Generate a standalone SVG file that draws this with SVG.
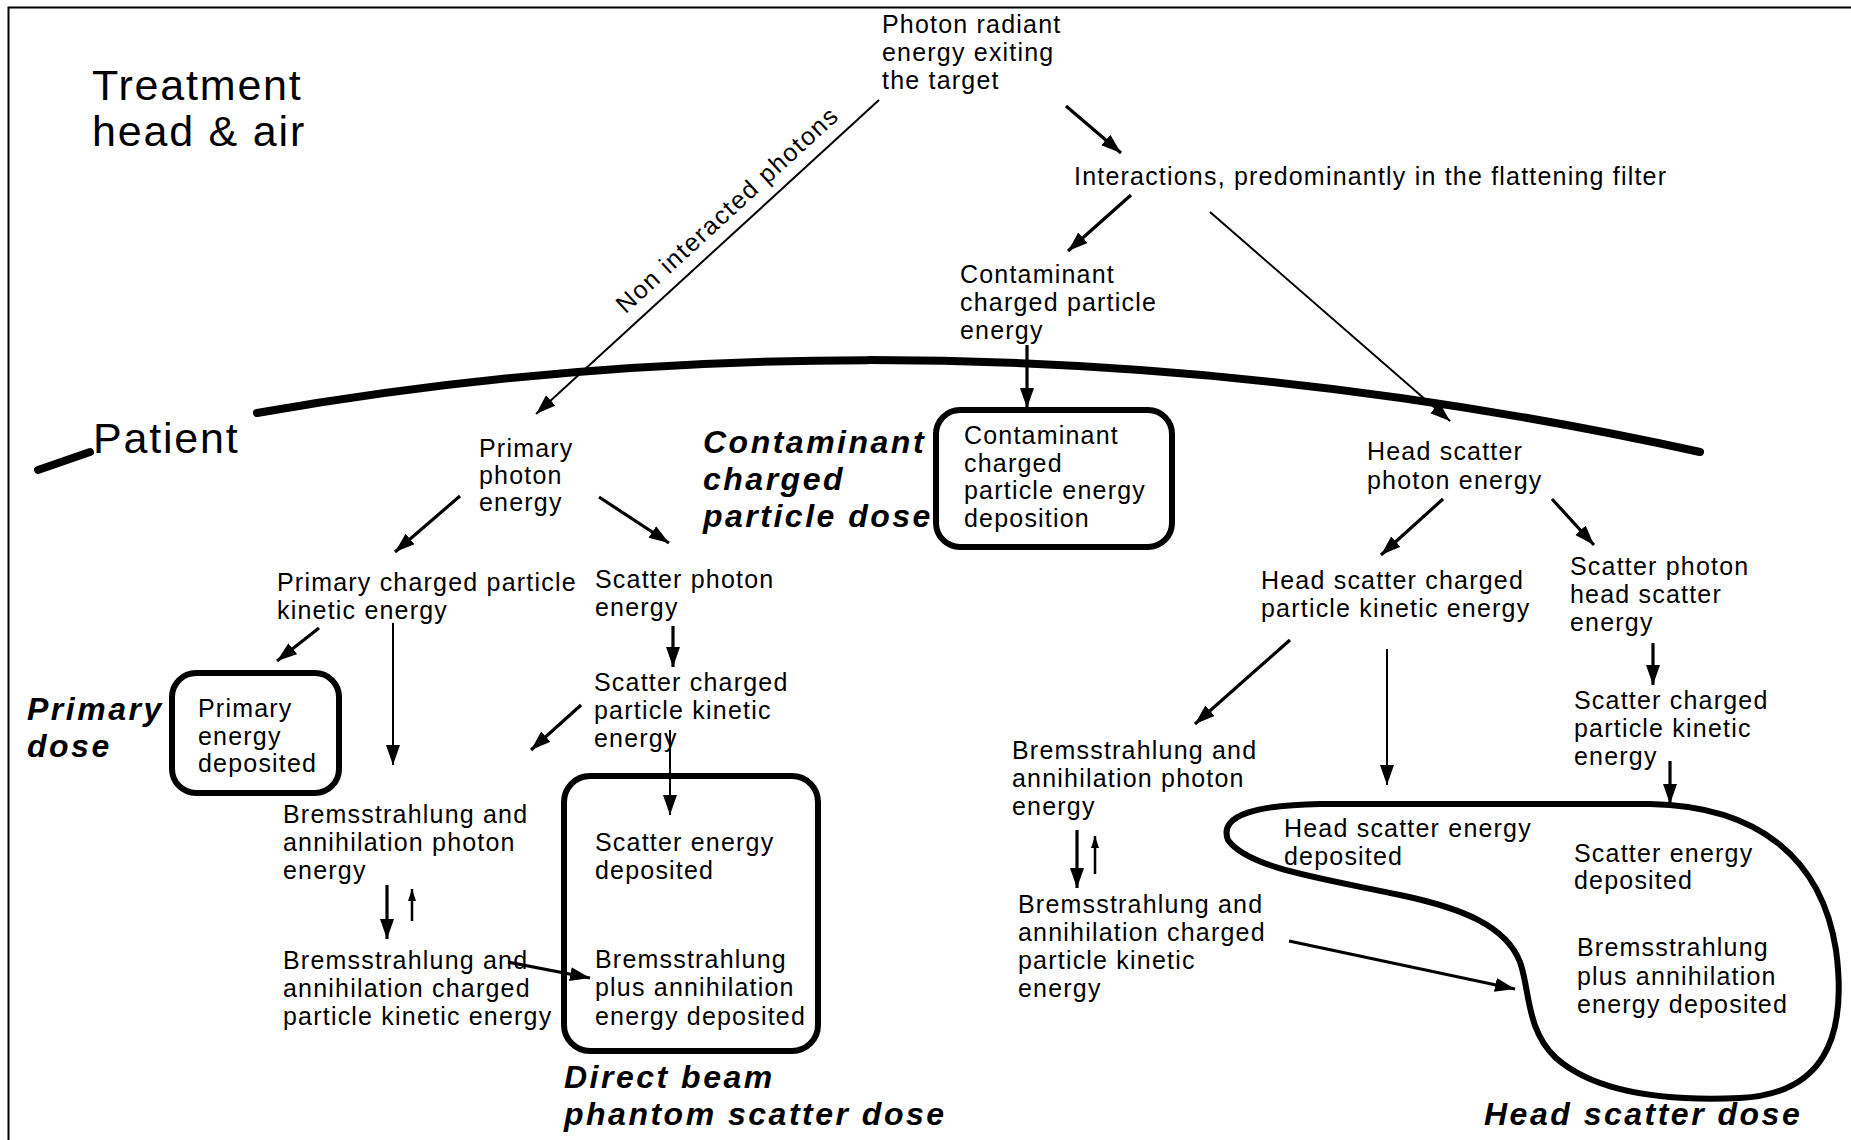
<svg xmlns="http://www.w3.org/2000/svg" width="1851" height="1140" viewBox="0 0 1851 1140">
<defs>
<style>
text{font-family:"Liberation Sans",Arial,Helvetica,sans-serif;fill:#000}
.t{font-size:25px;letter-spacing:1.2px}
.b{font-size:32px;font-weight:bold;font-style:italic;letter-spacing:2.5px}
.h{font-size:43px;letter-spacing:1.8px}
.box{fill:none;stroke:#000;stroke-width:6}
.c1{fill:none;stroke:#000;stroke-width:3.2;marker-end:url(#ah)}
.c2{fill:none;stroke:#000;stroke-width:2;marker-end:url(#ah)}
.cs{fill:none;stroke:#000;stroke-width:2.5;marker-end:url(#as)}
.arc{fill:none;stroke:#000;stroke-width:8;stroke-linecap:round}
</style>
<marker id="ah" markerUnits="userSpaceOnUse" markerWidth="22" markerHeight="16" refX="20" refY="7" orient="auto"><path d="M0,0 L20,7 L0,14 Z" fill="#000"/></marker>
<marker id="as" markerUnits="userSpaceOnUse" markerWidth="14" markerHeight="10" refX="12" refY="4" orient="auto"><path d="M0,0 L12,4 L0,8 Z" fill="#000"/></marker>
</defs>
<rect width="1851" height="1140" fill="#fff"/>
<path d="M8.5,1140 V7.5 H1851" fill="none" stroke="#000" stroke-width="2"/>

<g id="boundary">
<path class="arc" d="M257,413 C580,356 1080,316 1700,452"/>
<path class="arc" d="M38,470 L90,452"/>
</g>

<g id="region-labels">
<text class="h" x="92" y="100">Treatment</text>
<text class="h" x="92" y="146">head &amp; air</text>
<text class="h" x="93" y="453">Patient</text>
</g>

<g id="connectors">
<path class="c2" d="M879,100 L536,414"/>
<text class="t" transform="translate(733,216) rotate(-42.5)" text-anchor="middle" style="letter-spacing:1.5px">Non interacted photons</text>
<path class="c1" d="M1066,106 L1121,153"/>
<path class="c1" d="M1131,195 L1068,251"/>
<path class="c2" d="M1210,212 L1450,421"/>
<path class="c1" d="M1027,345 L1027,408"/>
<path class="c1" d="M460,496 L395,552"/>
<path class="c1" d="M599,497 L669,543"/>
<path class="c1" d="M1443,499 L1381,555"/>
<path class="c1" d="M1552,499 L1594,545"/>
<path class="c1" d="M319,628 L277,661"/>
<path class="c2" d="M393,623 L393,765"/>
<path class="c1" d="M673,626 L673,667"/>
<path class="c1" d="M581,705 L531,750"/>
<path class="c2" d="M670,730 L670,815"/>
<path class="c1" d="M387,885 L387,939"/>
<path class="cs" d="M412,921 L412,889"/>
<path class="c1" d="M508,962 L590,978"/>
<path class="c1" d="M1290,640 L1195,724"/>
<path class="c2" d="M1387,649 L1387,785"/>
<path class="c1" d="M1653,643 L1653,685"/>
<path class="c1" d="M1670,761 L1670,804"/>
<path class="c1" d="M1077,830 L1077,888"/>
<path class="cs" d="M1095,874 L1095,836"/>
<path class="c1" d="M1289,941 L1515,989"/>
</g>

<g id="n-photon-exit">
<text class="t" x="882" y="33">Photon radiant</text>
<text class="t" x="882" y="61">energy exiting</text>
<text class="t" x="882" y="89">the target</text>
</g>
<g id="n-interactions">
<text class="t" x="1074" y="185">Interactions, predominantly in the flattening filter</text>
</g>
<g id="n-contaminant-energy">
<text class="t" x="960" y="283">Contaminant</text>
<text class="t" x="960" y="311">charged particle</text>
<text class="t" x="960" y="339">energy</text>
</g>
<g id="n-contaminant-box">
<rect class="box" x="936" y="410" width="236" height="137" rx="24"/>
<text class="t" x="964" y="444">Contaminant</text>
<text class="t" x="964" y="472">charged</text>
<text class="t" x="964" y="499">particle energy</text>
<text class="t" x="964" y="527">deposition</text>
</g>
<g id="l-contaminant-dose">
<text class="b" x="703" y="453">Contaminant</text>
<text class="b" x="703" y="490">charged</text>
<text class="b" x="703" y="527">particle dose</text>
</g>
<g id="n-primary-photon">
<text class="t" x="479" y="457">Primary</text>
<text class="t" x="479" y="484">photon</text>
<text class="t" x="479" y="511">energy</text>
</g>
<g id="n-head-scatter-photon">
<text class="t" x="1367" y="460">Head scatter</text>
<text class="t" x="1367" y="489">photon energy</text>
</g>
<g id="n-primary-charged">
<text class="t" x="277" y="591">Primary charged particle</text>
<text class="t" x="277" y="619">kinetic energy</text>
</g>
<g id="n-scatter-photon">
<text class="t" x="595" y="588">Scatter photon</text>
<text class="t" x="595" y="616">energy</text>
</g>
<g id="n-scatter-charged">
<text class="t" x="594" y="691">Scatter charged</text>
<text class="t" x="594" y="719">particle kinetic</text>
<text class="t" x="594" y="747">energy</text>
</g>
<g id="n-primary-box">
<rect class="box" x="172" y="673" width="167" height="120" rx="24"/>
<text class="t" x="198" y="717">Primary</text>
<text class="t" x="198" y="745">energy</text>
<text class="t" x="198" y="772">deposited</text>
</g>
<g id="l-primary-dose">
<text class="b" x="27" y="720">Primary</text>
<text class="b" x="27" y="757">dose</text>
</g>
<g id="n-brems-photon-left">
<text class="t" x="283" y="823">Bremsstrahlung and</text>
<text class="t" x="283" y="851">annihilation photon</text>
<text class="t" x="283" y="879">energy</text>
</g>
<g id="n-brems-charged-left">
<text class="t" x="283" y="969">Bremsstrahlung and</text>
<text class="t" x="283" y="997">annihilation charged</text>
<text class="t" x="283" y="1025">particle kinetic energy</text>
</g>
<g id="n-direct-box">
<rect class="box" x="564" y="776" width="254" height="275" rx="26"/>
<text class="t" x="595" y="851">Scatter energy</text>
<text class="t" x="595" y="879">deposited</text>
<text class="t" x="595" y="968">Bremsstrahlung</text>
<text class="t" x="595" y="996">plus annihilation</text>
<text class="t" x="595" y="1025">energy deposited</text>
</g>
<g id="l-direct-dose">
<text class="b" x="564" y="1088">Direct beam</text>
<text class="b" x="564" y="1125">phantom scatter dose</text>
</g>
<g id="n-head-scatter-charged">
<text class="t" x="1261" y="589">Head scatter charged</text>
<text class="t" x="1261" y="617">particle kinetic energy</text>
</g>
<g id="n-scatter-photon-head">
<text class="t" x="1570" y="575">Scatter photon</text>
<text class="t" x="1570" y="603">head scatter</text>
<text class="t" x="1570" y="631">energy</text>
</g>
<g id="n-scatter-charged-right">
<text class="t" x="1574" y="709">Scatter charged</text>
<text class="t" x="1574" y="737">particle kinetic</text>
<text class="t" x="1574" y="765">energy</text>
</g>
<g id="n-brems-photon-right">
<text class="t" x="1012" y="759">Bremsstrahlung and</text>
<text class="t" x="1012" y="787">annihilation photon</text>
<text class="t" x="1012" y="815">energy</text>
</g>
<g id="n-brems-charged-right">
<text class="t" x="1018" y="913">Bremsstrahlung and</text>
<text class="t" x="1018" y="941">annihilation charged</text>
<text class="t" x="1018" y="969">particle kinetic</text>
<text class="t" x="1018" y="997">energy</text>
</g>
<g id="n-head-scatter-blob">
<path class="box" d="M1228,840 C1218,814 1260,805 1320,804 L1650,804 C1760,806 1822,860 1836,950 C1848,1040 1822,1094 1740,1098 C1650,1102 1590,1088 1556,1058 C1526,1030 1530,990 1520,962 C1506,926 1462,908 1400,895 C1320,878 1248,868 1228,840 Z"/>
<text class="t" x="1284" y="837">Head scatter energy</text>
<text class="t" x="1284" y="865">deposited</text>
<text class="t" x="1574" y="862">Scatter energy</text>
<text class="t" x="1574" y="889">deposited</text>
<text class="t" x="1577" y="956">Bremsstrahlung</text>
<text class="t" x="1577" y="985">plus annihilation</text>
<text class="t" x="1577" y="1013">energy deposited</text>
</g>
<g id="l-head-dose">
<text class="b" x="1484" y="1125">Head scatter dose</text>
</g>
</svg>
